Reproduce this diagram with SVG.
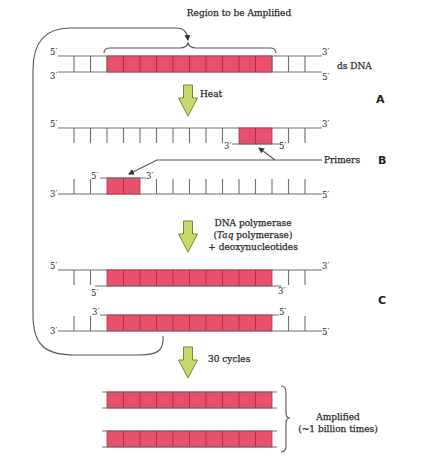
<svg xmlns="http://www.w3.org/2000/svg" width="427" height="473" viewBox="0 0 427 473">
<style>
.s{stroke:#6f6f6f;stroke-width:1.2;fill:none}
.t{stroke:#6f6f6f;stroke-width:1.1}
.r{fill:#e8506e;stroke:#b03048;stroke-width:0.8}
.d{stroke:#a82c44;stroke-width:0.9}
.ar{fill:#c8d86c;stroke:#788a2c;stroke-width:1}
text{font-family:"DejaVu Serif","Liberation Serif",serif;font-size:9px;fill:#2a2a2a;stroke:#2a2a2a;stroke-width:0.25}
.p{font-size:8.5px;stroke:none}
.L{font-family:"DejaVu Sans","Liberation Sans",sans-serif;font-size:11px;font-weight:bold;stroke:none;fill:#222}
.c{stroke:#555;stroke-width:1.1;fill:none}
</style>
<defs>
<marker id="ah" markerWidth="6" markerHeight="6" refX="5" refY="3" orient="auto" markerUnits="userSpaceOnUse">
<path d="M0,0 L6,3 L0,6 z" fill="#333"/>
</marker>
<path id="arrow" class="ar" d="M-4.5,0 h9 v13 h5 l-9.5,18 l-9.5,-18 h5 z"/>
</defs>

<text x="239" y="16" text-anchor="middle">Region to be Amplified</text>

<g id="connectors">
<path class="c" d="M163,336 C164,350 158,355 140,355 L75,355 C45,355 33,345 33,315 L33,70 C33,42 45,28 70,28 L176,28 C184,28 187,32 188,40" marker-end="url(#ah)"/>
<path class="c" d="M104,53 C104,49 106,48 110,48 L180,48 C185,48 187,46 188,43 C189,46 191,48 196,48 L270,48 C274,48 276,49 276,53"/>
<path class="c" d="M322,160 L157,160 L129,174" marker-end="url(#ah)"/>
<path class="c" d="M275,160 L259,148" marker-end="url(#ah)"/>
<path class="c" d="M281,386 C285,386 286,388 286,392 L286,413 C286,416 287,418 290,418 C287,418 286,420 286,423 L286,446 C286,450 285,452 281,452"/>
</g>

<g id="dsDNA">
<line class="s" x1="58" y1="56" x2="322" y2="56"/>
<line class="s" x1="58" y1="72" x2="322" y2="72"/>
<rect class="r" x="107" y="56" width="165" height="16"/>
<g class="t">
<line x1="74" y1="56" x2="74" y2="72"/><line x1="90.5" y1="56" x2="90.5" y2="72"/><line x1="107" y1="56" x2="107" y2="72"/>
<line x1="272" y1="56" x2="272" y2="72"/><line x1="288.5" y1="56" x2="288.5" y2="72"/><line x1="305" y1="56" x2="305" y2="72"/>
</g>
<g class="d">
<line x1="123.5" y1="56" x2="123.5" y2="72"/><line x1="140" y1="56" x2="140" y2="72"/><line x1="156.5" y1="56" x2="156.5" y2="72"/><line x1="173" y1="56" x2="173" y2="72"/><line x1="189.5" y1="56" x2="189.5" y2="72"/><line x1="206" y1="56" x2="206" y2="72"/><line x1="222.5" y1="56" x2="222.5" y2="72"/><line x1="239" y1="56" x2="239" y2="72"/><line x1="255.5" y1="56" x2="255.5" y2="72"/>
</g>
<text class="p" x="50" y="55">5′</text>
<text class="p" x="50" y="79">3′</text>
<text class="p" x="322" y="55">3′</text>
<text class="p" x="322" y="80">5′</text>
<text x="337" y="69">ds DNA</text>
</g>

<g id="heat">
<use href="#arrow" x="188" y="85"/>
<text x="200" y="97">Heat</text>
<text class="L" x="376" y="103">A</text>
</g>

<g id="strandB1">
<line class="s" x1="58" y1="128" x2="322" y2="128"/>
<g class="t">
<line x1="74" y1="128" x2="74" y2="143"/><line x1="90.5" y1="128" x2="90.5" y2="143"/><line x1="107" y1="128" x2="107" y2="143"/><line x1="123.5" y1="128" x2="123.5" y2="143"/><line x1="140" y1="128" x2="140" y2="143"/><line x1="156.5" y1="128" x2="156.5" y2="143"/><line x1="173" y1="128" x2="173" y2="143"/><line x1="189.5" y1="128" x2="189.5" y2="143"/><line x1="206" y1="128" x2="206" y2="143"/><line x1="222.5" y1="128" x2="222.5" y2="143"/><line x1="288.5" y1="128" x2="288.5" y2="143"/><line x1="305" y1="128" x2="305" y2="143"/>
</g>
<rect class="r" x="239" y="128" width="33" height="16"/>
<line class="d" x1="255.5" y1="128" x2="255.5" y2="144"/>
<line class="s" x1="232" y1="144" x2="281" y2="144"/>
<text class="p" x="50" y="127">5′</text>
<text class="p" x="322" y="127">3′</text>
<text class="p" x="224" y="149">3′</text>
<text class="p" x="279" y="149">5′</text>
</g>

<g id="primers">
<text x="324" y="163">Primers</text>
<text class="L" x="378" y="164">B</text>
</g>

<g id="strandB2">
<line class="s" x1="58" y1="194" x2="322" y2="194"/>
<g class="t">
<line x1="74" y1="179" x2="74" y2="194"/><line x1="90.5" y1="179" x2="90.5" y2="194"/><line x1="156.5" y1="179" x2="156.5" y2="194"/><line x1="173" y1="179" x2="173" y2="194"/><line x1="189.5" y1="179" x2="189.5" y2="194"/><line x1="206" y1="179" x2="206" y2="194"/><line x1="222.5" y1="179" x2="222.5" y2="194"/><line x1="239" y1="179" x2="239" y2="194"/><line x1="255.5" y1="179" x2="255.5" y2="194"/><line x1="272" y1="179" x2="272" y2="194"/><line x1="288.5" y1="179" x2="288.5" y2="194"/><line x1="305" y1="179" x2="305" y2="194"/>
</g>
<rect class="r" x="107" y="178" width="33" height="16"/>
<line class="d" x1="123.5" y1="178" x2="123.5" y2="194"/>
<line class="s" x1="100" y1="178" x2="146" y2="178"/>
<text class="p" x="91" y="179">5′</text>
<text class="p" x="146" y="179">3′</text>
<text class="p" x="50" y="197">3′</text>
<text class="p" x="322" y="198">5′</text>
</g>

<g id="polymerase">
<use href="#arrow" x="188" y="221"/>
<text x="253" y="226" text-anchor="middle">DNA polymerase</text>
<text x="253" y="238" text-anchor="middle">(<tspan font-style="italic">Taq</tspan> polymerase)</text>
<text x="253" y="250" text-anchor="middle">+ deoxynucleotides</text>
</g>

<g id="strandC1">
<line class="s" x1="58" y1="270" x2="322" y2="270"/>
<g class="t">
<line x1="74" y1="270" x2="74" y2="285"/><line x1="90.5" y1="270" x2="90.5" y2="285"/><line x1="288.5" y1="270" x2="288.5" y2="285"/><line x1="305" y1="270" x2="305" y2="285"/>
</g>
<rect class="r" x="107" y="270" width="165" height="16"/>
<g class="d">
<line x1="123.5" y1="270" x2="123.5" y2="286"/><line x1="140" y1="270" x2="140" y2="286"/><line x1="156.5" y1="270" x2="156.5" y2="286"/><line x1="173" y1="270" x2="173" y2="286"/><line x1="189.5" y1="270" x2="189.5" y2="286"/><line x1="206" y1="270" x2="206" y2="286"/><line x1="222.5" y1="270" x2="222.5" y2="286"/><line x1="239" y1="270" x2="239" y2="286"/><line x1="255.5" y1="270" x2="255.5" y2="286"/>
</g>
<line class="s" x1="95" y1="286" x2="281" y2="286"/>
<text class="p" x="91" y="296">5′</text>
<text class="p" x="278" y="294">3′</text>
<text class="p" x="50" y="269">5′</text>
<text class="p" x="322" y="269">3′</text>
<text class="L" x="378" y="304">C</text>
</g>

<g id="strandC2">
<line class="s" x1="100" y1="315" x2="279" y2="315"/>
<rect class="r" x="107" y="315" width="165" height="16"/>
<g class="d">
<line x1="123.5" y1="315" x2="123.5" y2="331"/><line x1="140" y1="315" x2="140" y2="331"/><line x1="156.5" y1="315" x2="156.5" y2="331"/><line x1="173" y1="315" x2="173" y2="331"/><line x1="189.5" y1="315" x2="189.5" y2="331"/><line x1="206" y1="315" x2="206" y2="331"/><line x1="222.5" y1="315" x2="222.5" y2="331"/><line x1="239" y1="315" x2="239" y2="331"/><line x1="255.5" y1="315" x2="255.5" y2="331"/>
</g>
<line class="s" x1="58" y1="331" x2="322" y2="331"/>
<g class="t">
<line x1="74" y1="316" x2="74" y2="331"/><line x1="90.5" y1="316" x2="90.5" y2="331"/><line x1="288.5" y1="316" x2="288.5" y2="331"/><line x1="305" y1="316" x2="305" y2="331"/>
</g>
<text class="p" x="92" y="315">3′</text>
<text class="p" x="279" y="315">5′</text>
<text class="p" x="50" y="334">3′</text>
<text class="p" x="322" y="335">5′</text>
</g>

<g id="cycles">
<use href="#arrow" x="188" y="347"/>
<text x="208" y="362">30 cycles</text>
</g>

<g id="amplified1">
<rect class="r" x="107" y="392" width="165" height="16"/>
<g class="d">
<line x1="123.5" y1="392" x2="123.5" y2="408"/><line x1="140" y1="392" x2="140" y2="408"/><line x1="156.5" y1="392" x2="156.5" y2="408"/><line x1="173" y1="392" x2="173" y2="408"/><line x1="189.5" y1="392" x2="189.5" y2="408"/><line x1="206" y1="392" x2="206" y2="408"/><line x1="222.5" y1="392" x2="222.5" y2="408"/><line x1="239" y1="392" x2="239" y2="408"/><line x1="255.5" y1="392" x2="255.5" y2="408"/>
</g>
<line class="s" x1="102" y1="392" x2="277" y2="392"/>
<line class="s" x1="102" y1="408" x2="277" y2="408"/>
</g>

<g id="amplified2">
<rect class="r" x="107" y="431" width="165" height="16"/>
<g class="d">
<line x1="123.5" y1="431" x2="123.5" y2="447"/><line x1="140" y1="431" x2="140" y2="447"/><line x1="156.5" y1="431" x2="156.5" y2="447"/><line x1="173" y1="431" x2="173" y2="447"/><line x1="189.5" y1="431" x2="189.5" y2="447"/><line x1="206" y1="431" x2="206" y2="447"/><line x1="222.5" y1="431" x2="222.5" y2="447"/><line x1="239" y1="431" x2="239" y2="447"/><line x1="255.5" y1="431" x2="255.5" y2="447"/>
</g>
<line class="s" x1="102" y1="431" x2="277" y2="431"/>
<line class="s" x1="102" y1="447" x2="277" y2="447"/>
</g>

<g id="amplifiedLabel">
<text x="338" y="420" text-anchor="middle">Amplified</text>
<text x="338" y="432" text-anchor="middle">(~1 billion times)</text>
</g>
</svg>
